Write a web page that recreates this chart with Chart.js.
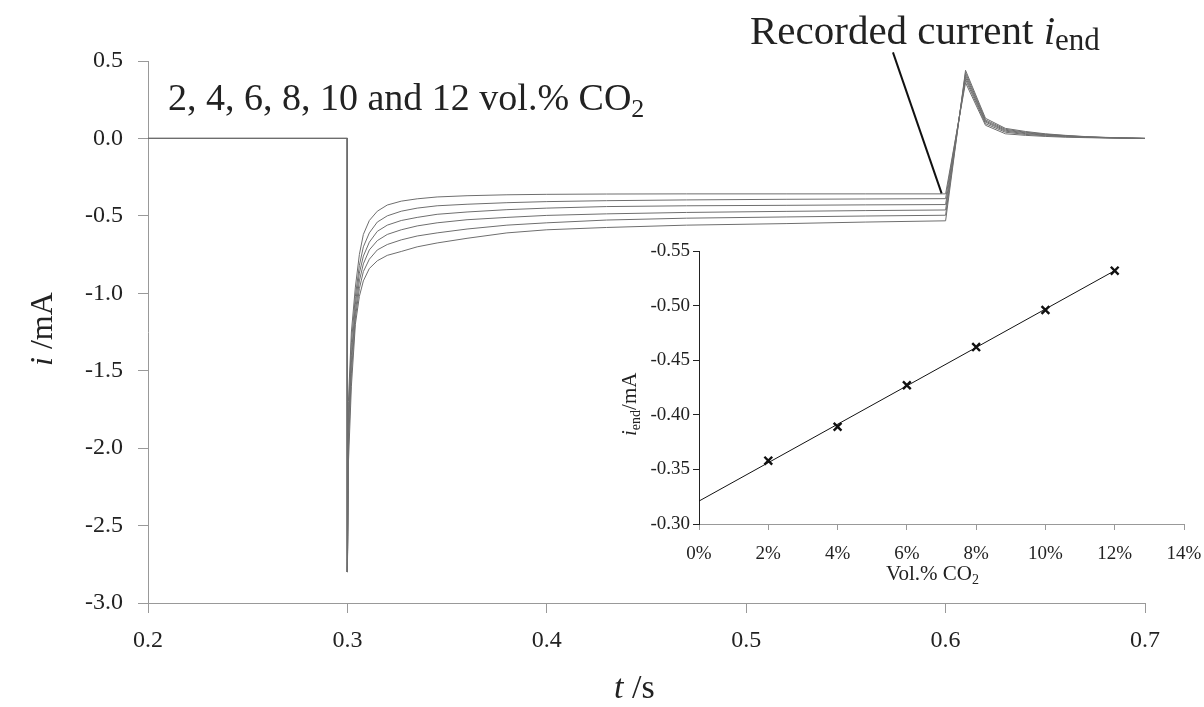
<!DOCTYPE html>
<html>
<head>
<meta charset="utf-8">
<script src="https://cdn.jsdelivr.net/npm/chart.js@4/dist/chart.umd.min.js"></script>
<style>
  body { margin: 0; background: #fff; overflow: hidden; }
  #wrap { position: relative; width: 1204px; height: 707px; }
  #main { position: absolute; left: 0; top: 0; }
  #inset { position: absolute; left: 555px; top: 230px; }
</style>
</head>
<body>
<div id="wrap">
  <canvas id="main" width="1204" height="707"></canvas>
  <canvas id="inset" width="650" height="370"></canvas>
</div>
<script>
// ---------- Main transients: time (s) and current (mA) ----------
const tSec = [0.2, 0.3, 0.3, 0.3005, 0.302, 0.304, 0.306, 0.308, 0.311, 0.315, 0.32, 0.327,
  0.335, 0.345, 0.36, 0.38, 0.40, 0.43, 0.47, 0.52, 0.56, 0.6,
  0.61, 0.62, 0.63, 0.64, 0.65, 0.66, 0.67, 0.68, 0.69, 0.7];

const iCO2_2 = [0, 0, -2.8, -1.7, -1.25, -0.96, -0.75, -0.62, -0.53, -0.47, -0.43, -0.405,
  -0.39, -0.378, -0.37, -0.364, -0.361, -0.359, -0.358, -0.358, -0.358, -0.358,
  0.36, 0.085, 0.03, 0.02, 0.013, 0.008, 0.005, 0.003, 0.001, 0];
const iCO2_4 = [0, 0, -2.8, -1.8, -1.32, -1.02, -0.82, -0.7, -0.61, -0.54, -0.5, -0.47,
  -0.45, -0.435, -0.425, -0.415, -0.408, -0.402, -0.397, -0.393, -0.391, -0.389,
  0.38, 0.095, 0.04, 0.026, 0.017, 0.011, 0.007, 0.004, 0.002, 0];
const iCO2_6 = [0, 0, -2.8, -1.85, -1.4, -1.07, -0.87, -0.76, -0.67, -0.6, -0.56, -0.53,
  -0.51, -0.49, -0.475, -0.46, -0.45, -0.44, -0.435, -0.432, -0.429, -0.427,
  0.395, 0.105, 0.047, 0.031, 0.021, 0.014, 0.008, 0.005, 0.002, 0];
const iCO2_8 = [0, 0, -2.8, -1.9, -1.45, -1.12, -0.92, -0.81, -0.72, -0.66, -0.62, -0.59,
  -0.565, -0.545, -0.525, -0.51, -0.497, -0.487, -0.478, -0.471, -0.466, -0.462,
  0.41, 0.112, 0.053, 0.036, 0.024, 0.016, 0.01, 0.005, 0.003, 0];
const iCO2_10 = [0, 0, -2.8, -2.0, -1.52, -1.16, -0.97, -0.86, -0.78, -0.72, -0.685, -0.655,
  -0.63, -0.61, -0.585, -0.56, -0.545, -0.527, -0.515, -0.507, -0.501, -0.496,
  0.425, 0.12, 0.059, 0.04, 0.027, 0.018, 0.011, 0.006, 0.003, 0];
const iCO2_12 = [0, 0, -2.8, -2.1, -1.6, -1.2, -1.02, -0.92, -0.84, -0.79, -0.755, -0.73,
  -0.70, -0.675, -0.645, -0.61, -0.59, -0.575, -0.56, -0.55, -0.54, -0.532,
  0.44, 0.13, 0.065, 0.045, 0.03, 0.02, 0.012, 0.007, 0.003, 0];

const mainXTicks = [0.2, 0.3, 0.4, 0.5, 0.6, 0.7];
const mainYTicks = [-3.0, -2.5, -2.0, -1.5, -1.0, -0.5, 0.0, 0.5];

// leader line of the "Recorded current" label, data coords (start, end)
const leaderT = [0.5736, 0.598];
const leaderI = [0.556, -0.355];

// ---------- Inset: end current vs CO2 ----------
const co2Pct = [2, 4, 6, 8, 10, 12];
const iEnd = [-0.358, -0.389, -0.427, -0.462, -0.496, -0.532];
const trendPct = [0, 12];
const trendI = [-0.321, -0.532];
const insetXTicks = [0, 2, 4, 6, 8, 10, 12, 14];
const insetYTicks = [-0.55, -0.50, -0.45, -0.40, -0.35, -0.30];

const SERIF = "'Liberation Serif', 'Times New Roman', serif";
const curves = [iCO2_2, iCO2_4, iCO2_6, iCO2_8, iCO2_10, iCO2_12];

// write a run of text pieces one after another (for subscripts / italics)
function drawSub(ctx, x, y, parts) {
  let cx = x;
  parts.forEach(p => {
    ctx.font = p.font;
    ctx.fillText(p.text, cx, y + (p.dy || 0));
    cx += ctx.measureText(p.text).width;
  });
}

// keep the plot area where the layout padding puts it
const fixX = h => s => { s.height = h; s.paddingLeft = 0; s.paddingRight = 0; };
const fixY = w => s => { s.width = w; s.paddingTop = 0; s.paddingBottom = 0; };

const mainText = {
  id: 'mainText',
  afterDraw(chart) {
    const ctx = chart.ctx;
    const xs = chart.scales.x, ys = chart.scales.y;
    ctx.save();
    // leader line
    ctx.strokeStyle = '#111';
    ctx.lineWidth = 2;
    ctx.beginPath();
    ctx.moveTo(xs.getPixelForValue(leaderT[0]), ys.getPixelForValue(leaderI[0]));
    ctx.lineTo(xs.getPixelForValue(leaderT[1]), ys.getPixelForValue(leaderI[1]));
    ctx.stroke();

    ctx.fillStyle = '#222';
    ctx.textBaseline = 'alphabetic';
    ctx.textAlign = 'left';
    drawSub(ctx, 168, 110, [
      { text: '2, 4, 6, 8, 10 and 12 vol.% CO', font: `38px ${SERIF}` },
      { text: '2', font: `26px ${SERIF}`, dy: 7 }
    ]);
    drawSub(ctx, 750, 44, [
      { text: 'Recorded current ', font: `41px ${SERIF}` },
      { text: 'i', font: `italic 41px ${SERIF}` },
      { text: 'end', font: `31px ${SERIF}`, dy: 6 }
    ]);
    // x title
    drawSub(ctx, 614, 698, [
      { text: 't', font: `italic 34px ${SERIF}` },
      { text: ' /s', font: `34px ${SERIF}` }
    ]);
    // y title
    ctx.translate(52, 366);
    ctx.rotate(-Math.PI / 2);
    drawSub(ctx, 0, 0, [
      { text: 'i', font: `italic 32px ${SERIF}` },
      { text: ' /mA', font: `32px ${SERIF}` }
    ]);
    ctx.restore();
  }
};

new Chart(document.getElementById('main').getContext('2d'), {
  type: 'line',
  data: {
    datasets: curves.map((c, k) => ({
      label: (co2Pct[k]) + ' vol.%',
      data: tSec.map((t, i) => ({ x: t, y: c[i] })),
      borderColor: '#6e6e6e',
      borderWidth: 1,
      pointRadius: 0,
      tension: 0,
      fill: false
    }))
  },
  options: {
    responsive: false,
    animation: false,
    layout: { padding: { left: 0, top: 61, right: 59, bottom: 0 } },
    plugins: { legend: { display: false }, tooltip: { enabled: false } },
    scales: {
      x: {
        type: 'linear', min: 0.2, max: 0.7,
        afterBuildTicks: s => { s.ticks = mainXTicks.map(v => ({ value: v })); },
        afterFit: fixX(104),
        border: { color: '#999', width: 1 },
        grid: { drawOnChartArea: false, drawTicks: true, tickLength: 10, color: '#999' },
        ticks: { callback: v => v.toFixed(1), color: '#222', padding: 13,
                 font: { family: SERIF, size: 24 }, maxRotation: 0 }
      },
      y: {
        type: 'linear', min: -3, max: 0.5,
        afterBuildTicks: s => { s.ticks = mainYTicks.map(v => ({ value: v })); },
        afterFit: fixY(148),
        border: { color: '#999', width: 1 },
        grid: { drawOnChartArea: false, drawTicks: true, tickLength: 10, color: '#999' },
        ticks: { callback: v => v.toFixed(1), color: '#222', padding: 15,
                 font: { family: SERIF, size: 24 } }
      }
    }
  },
  plugins: [mainText]
});

const insetText = {
  id: 'insetText',
  afterDraw(chart) {
    const ctx = chart.ctx;
    ctx.save();
    ctx.fillStyle = '#222';
    ctx.textBaseline = 'alphabetic';
    drawSub(ctx, 331, 350, [
      { text: 'Vol.% CO', font: `21px ${SERIF}` },
      { text: '2', font: `14px ${SERIF}`, dy: 4 }
    ]);
    ctx.translate(81, 206);
    ctx.rotate(-Math.PI / 2);
    drawSub(ctx, 0, 0, [
      { text: 'i', font: `italic 21px ${SERIF}` },
      { text: 'end', font: `14px ${SERIF}`, dy: 4 },
      { text: '/mA', font: `21px ${SERIF}` }
    ]);
    ctx.restore();
  }
};

new Chart(document.getElementById('inset').getContext('2d'), {
  type: 'scatter',
  data: {
    datasets: [
      {
        type: 'line',
        label: 'trend',
        data: trendPct.map((x, i) => ({ x: x, y: trendI[i] })),
        borderColor: '#111',
        borderWidth: 1,
        pointRadius: 0,
        tension: 0
      },
      {
        label: 'i_end',
        data: co2Pct.map((x, i) => ({ x: x, y: iEnd[i] })),
        pointStyle: 'crossRot',
        pointRadius: 5.5,
        borderColor: '#111',
        backgroundColor: '#111',
        pointBorderWidth: 2.4
      }
    ]
  },
  options: {
    responsive: false,
    animation: false,
    layout: { padding: { left: 0, top: 21, right: 21, bottom: 0 } },
    plugins: { legend: { display: false }, tooltip: { enabled: false } },
    scales: {
      x: {
        type: 'linear', min: 0, max: 14,
        afterBuildTicks: s => { s.ticks = insetXTicks.map(v => ({ value: v })); },
        afterFit: fixX(76),
        border: { color: '#999', width: 1 },
        grid: { drawOnChartArea: false, drawTicks: true, tickLength: 6, color: '#999' },
        ticks: { callback: v => v + '%', color: '#222', padding: 13,
                 font: { family: SERIF, size: 19 }, maxRotation: 0 }
      },
      y: {
        type: 'linear', min: -0.55, max: -0.30, reverse: true,
        afterBuildTicks: s => { s.ticks = insetYTicks.map(v => ({ value: v })); },
        afterFit: fixY(144),
        border: { color: '#222', width: 1 },
        grid: { drawOnChartArea: false, drawTicks: true, tickLength: 6, color: '#222' },
        ticks: { callback: v => v.toFixed(2), color: '#222', padding: 3,
                 font: { family: SERIF, size: 19 } }
      }
    }
  },
  plugins: [insetText]
});
</script>
</body>
</html>
